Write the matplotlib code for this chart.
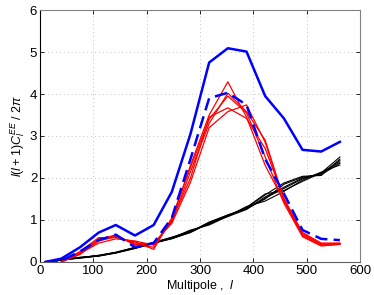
import numpy as np
import matplotlib
matplotlib.use("Agg")
import matplotlib.pyplot as plt

plt.rcParams['font.family'] = ['Liberation Sans', 'DejaVu Sans']
plt.rcParams['mathtext.fontset'] = 'custom'
plt.rcParams['mathtext.rm'] = 'Liberation Sans'
plt.rcParams['mathtext.it'] = 'Liberation Sans:italic'
plt.rcParams['mathtext.bf'] = 'Liberation Sans:bold'

# multipole bin centres
ell = [10, 40, 75, 110, 142, 178, 213, 247, 282, 317, 352, 387, 422, 457, 492, 527, 562]

# blue curves
blue_solid = [0, 0.08, 0.35, 0.70, 0.88, 0.63, 0.88, 1.67, 3.05, 4.75, 5.09, 5.01, 3.95, 3.42, 2.67, 2.63, 2.86]
blue_dash = [0, 0.03, 0.25, 0.52, 0.65, 0.35, 0.45, 1.05, 2.45, 3.90, 4.03, 3.74, 2.45, 1.63, 0.76, 0.55, 0.52]

# red realisations (no first bin)
red = [
    [np.nan, 0, 0.22, 0.55, 0.62, 0.42, 0.35, 1.00, 2.30, 3.50, 4.29, 3.45, 2.30, 1.45, 0.65, 0.42, 0.43],
    [np.nan, 0, 0.20, 0.50, 0.60, 0.45, 0.42, 0.95, 2.15, 3.30, 4.02, 3.58, 2.90, 1.50, 0.62, 0.40, 0.42],
    [np.nan, 0, 0.25, 0.58, 0.58, 0.48, 0.30, 1.05, 2.25, 3.40, 3.95, 3.55, 2.50, 1.40, 0.60, 0.38, 0.42],
    [np.nan, 0, 0.20, 0.45, 0.55, 0.50, 0.40, 0.98, 2.00, 3.45, 3.67, 3.42, 2.70, 1.52, 0.68, 0.43, 0.44],
    [np.nan, 0, 0.18, 0.52, 0.65, 0.40, 0.45, 0.92, 1.90, 3.20, 3.58, 3.74, 2.85, 1.48, 0.70, 0.45, 0.45],
]

# black realisations
black = [
    [0, 0.05, 0.10, 0.14, 0.22, 0.33, 0.45, 0.57, 0.74, 0.90, 1.10, 1.30, 1.62, 1.70, 1.92, 2.12, 2.50],
    [0, 0.06, 0.11, 0.15, 0.23, 0.34, 0.46, 0.58, 0.72, 0.95, 1.12, 1.27, 1.50, 1.85, 2.02, 2.08, 2.35],
    [0, 0.05, 0.09, 0.14, 0.21, 0.32, 0.44, 0.56, 0.70, 0.92, 1.08, 1.25, 1.55, 1.78, 2.00, 2.10, 2.42],
    [0, 0.04, 0.10, 0.15, 0.22, 0.33, 0.45, 0.57, 0.76, 0.88, 1.09, 1.32, 1.45, 1.68, 1.95, 2.14, 2.31],
    [0, 0.05, 0.10, 0.16, 0.23, 0.35, 0.46, 0.55, 0.71, 0.94, 1.11, 1.28, 1.60, 1.88, 2.04, 2.06, 2.45],
    [0, 0.06, 0.11, 0.15, 0.22, 0.34, 0.47, 0.59, 0.73, 0.91, 1.12, 1.26, 1.52, 1.75, 1.98, 2.12, 2.38],
]

fig = plt.figure(figsize=(3.74, 2.95), dpi=100)
ax = fig.add_axes([0.107, 0.112, 0.856, 0.854])

for b in black:
    ax.plot(ell, b, color='black', lw=0.8)
for r in red:
    ax.plot(ell, r, color='red', lw=0.9)
ax.plot(ell, blue_solid, color='blue', lw=1.8)
ax.plot(ell, blue_dash, color='blue', lw=1.8, ls=(0, (5, 2.5)))

ax.set_xlim(0, 600)
ax.set_ylim(0, 6)
ax.set_xticks(range(0, 601, 100))
ax.set_yticks(range(0, 7))
ax.grid(True, ls=(0, (1, 3)), color='#c4c4c4', lw=0.7)
ax.tick_params(direction='in', top=True, right=True, labelsize=9.5, length=3, width=0.6, pad=2)
for s in ['top', 'right']:
    ax.spines[s].set_color('#808080')
ax.spines['bottom'].set_color('#606060')
ax.spines['left'].set_color('black')

ax.set_xlabel(r'Multipole ,  $\it{l}$', fontsize=9, labelpad=1)
ax.set_ylabel(r'$l(l+1)C_l^{EE}\ /\ 2\pi$', fontsize=9, labelpad=2)

fig.savefig('out.png', dpi=100)
